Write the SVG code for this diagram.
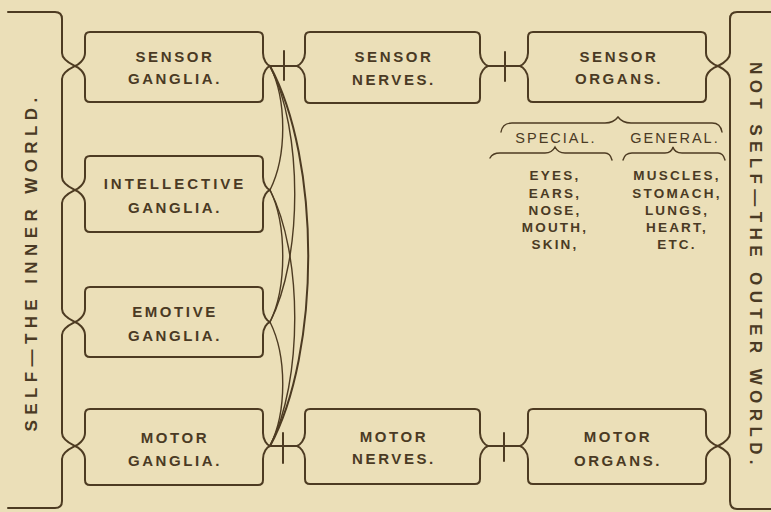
<svg xmlns="http://www.w3.org/2000/svg" width="771" height="512" viewBox="0 0 771 512">
<style>
.bg{fill:#ebdfb8}
.ln{fill:none;stroke:#4d3b22;stroke-width:2;stroke-linejoin:round;stroke-linecap:round}
.thin{fill:none;stroke:#4d3b22;stroke-width:1.4;stroke-linecap:round}
.box{fill:none;stroke:#4d3b22;stroke-width:2;stroke-linejoin:round}
.t{font-family:"Liberation Sans",Arial,sans-serif;font-weight:bold;font-size:15px;letter-spacing:2.6px;fill:#4a3a24;text-anchor:middle}
.s{font-family:"Liberation Sans",Arial,sans-serif;font-size:14.5px;letter-spacing:2px;fill:#4a3a24;text-anchor:middle}
.l{font-family:"Liberation Sans",Arial,sans-serif;font-weight:bold;font-size:13.5px;letter-spacing:2.2px;fill:#4a3a24;text-anchor:middle}
.side{font-family:"Liberation Sans",Arial,sans-serif;font-weight:bold;font-size:17px;letter-spacing:5.4px;fill:#4a3a24;text-anchor:middle}
</style>
<rect class="bg" x="0" y="0" width="771" height="512"/>

<g id="self-bracket">
<path class="ln" d="M8,12 H55 Q62,12 62,19 V53 C62,60 71,64 75,66 C71,68 62,72 62,79 V177 C62,184 71,188 75,190 C71,192 62,196 62,203 V309 C62,316 71,320 75,322 C71,324 62,328 62,335 V433 C62,440 71,444 75,446 C71,448 62,452 62,459 V501 Q62,508 55,508 H8"/>
<text class="side" transform="translate(37,262) rotate(-90)">SELF—THE INNER WORLD.</text>
</g>

<g id="notself-bracket">
<path class="ln" d="M771,12 H737 Q730,12 730,19 V53 C730,60 722,64 718,66 C722,68 730,72 730,79 V433 C730,440 722,444 718,446 C722,448 730,452 730,459 V501 Q730,509 737,509 H771"/>
<text class="side" transform="translate(750,266) rotate(90)">NOT SELF—THE OUTER WORLD.</text>
</g>

<g id="connectors">
<path class="ln" d="M270,66 H297 M284,51 V80"/>
<path class="ln" d="M488,66 H520 M505,52 V81"/>
<path class="ln" d="M270,446 H297 M283,433 V463"/>
<path class="ln" d="M488,446 H520 M504,433 V461"/>
<path class="thin" d="M270,66 C287,100 287,156 270,190"/>
<path class="thin" d="M270,190 C287,224 287,288 270,322"/>
<path class="thin" d="M270,322 C287,356 287,412 270,446"/>
<path class="thin" d="M270,66 C303,130 303,258 270,322"/>
<path class="thin" d="M270,190 C303,254 303,382 270,446"/>
<path class="ln" stroke-width="2.6" d="M270,66 C321,160 321,352 270,446"/>
</g>

<g id="sensor-ganglia">
<path class="box" d="M90,32 H258 Q263,32 263,37 V53 C263,60 267,65 270,66 C267,67 263,72 263,79 V97 Q263,102 258,102 H90 Q85,102 85,97 V79 C85,72 78,67 75,66 C78,65 85,60 85,53 V37 Q85,32 90,32 Z"/>
<text class="t" x="175" y="62">SENSOR</text>
<text class="t" x="175" y="84">GANGLIA.</text>
</g>

<g id="intellective-ganglia">
<path class="box" d="M90,156 H258 Q263,156 263,161 V177 C263,184 267,189 270,190 C267,191 263,196 263,203 V227 Q263,232 258,232 H90 Q85,232 85,227 V203 C85,196 78,191 75,190 C78,189 85,184 85,177 V161 Q85,156 90,156 Z"/>
<text class="t" x="175" y="189" style="letter-spacing:3px">INTELLECTIVE</text>
<text class="t" x="175" y="213">GANGLIA.</text>
</g>

<g id="emotive-ganglia">
<path class="box" d="M90,287 H258 Q263,287 263,292 V309 C263,316 267,321 270,322 C267,323 263,328 263,335 V352 Q263,357 258,357 H90 Q85,357 85,352 V335 C85,328 78,323 75,322 C78,321 85,316 85,309 V292 Q85,287 90,287 Z"/>
<text class="t" x="175" y="317">EMOTIVE</text>
<text class="t" x="175" y="341">GANGLIA.</text>
</g>

<g id="motor-ganglia">
<path class="box" d="M90,409 H258 Q263,409 263,414 V433 C263,440 267,445 270,446 C267,447 263,452 263,459 V480 Q263,485 258,485 H90 Q85,485 85,480 V459 C85,452 78,447 75,446 C78,445 85,440 85,433 V414 Q85,409 90,409 Z"/>
<text class="t" x="175" y="443">MOTOR</text>
<text class="t" x="175" y="466">GANGLIA.</text>
</g>

<g id="sensor-nerves">
<path class="box" d="M310,32 H475 Q480,32 480,37 V53 C480,60 485,65 488,66 C485,67 480,72 480,79 V98 Q480,103 475,103 H310 Q305,103 305,98 V79 C305,72 300,67 297,66 C300,65 305,60 305,53 V37 Q305,32 310,32 Z"/>
<text class="t" x="394" y="62">SENSOR</text>
<text class="t" x="394" y="85">NERVES.</text>
</g>

<g id="sensor-organs">
<path class="box" d="M533,32 H701 Q706,32 706,37 V53 C706,60 714,65 718,66 C714,67 706,72 706,79 V97 Q706,102 701,102 H533 Q528,102 528,97 V79 C528,72 523,67 520,66 C523,65 528,60 528,53 V37 Q528,32 533,32 Z"/>
<text class="t" x="619" y="62">SENSOR</text>
<text class="t" x="619" y="84">ORGANS.</text>
</g>

<g id="organ-kinds">
<path class="thin" d="M501,132 C502,126 505,123 512,123 H605 C612,123 615,121 618,117 C621,121 624,123 631,123 H712 C718,123 721,126 722,132"/>
<text class="s" x="556" y="143">SPECIAL.</text>
<text class="s" x="675" y="143">GENERAL.</text>
<path class="thin" d="M490,158 C492,154 495,153 500,153 H545 C550,153 553,151 555,147 C557,151 560,153 565,153 H605 C609,153 611,156 612,160"/>
<path class="thin" d="M623,160 C624,156 627,153 632,153 H665 C670,153 672,151 673,147 C674,151 677,153 682,153 H718 C722,153 724,156 725,160"/>
<text class="l" x="555" y="180">EYES,</text>
<text class="l" x="555" y="198">EARS,</text>
<text class="l" x="555" y="215">NOSE,</text>
<text class="l" x="555" y="232">MOUTH,</text>
<text class="l" x="555" y="249">SKIN,</text>
<text class="l" x="677" y="180">MUSCLES,</text>
<text class="l" x="677" y="198">STOMACH,</text>
<text class="l" x="677" y="215">LUNGS,</text>
<text class="l" x="677" y="232">HEART,</text>
<text class="l" x="677" y="249">ETC.</text>
</g>

<g id="motor-nerves">
<path class="box" d="M310,409 H475 Q480,409 480,414 V433 C480,440 485,445 488,446 C485,447 480,452 480,459 V479 Q480,484 475,484 H310 Q305,484 305,479 V459 C305,452 300,447 297,446 C300,445 305,440 305,433 V414 Q305,409 310,409 Z"/>
<text class="t" x="394" y="442">MOTOR</text>
<text class="t" x="394" y="464">NERVES.</text>
</g>

<g id="motor-organs">
<path class="box" d="M533,409 H701 Q706,409 706,414 V433 C706,440 714,445 718,446 C714,447 706,452 706,459 V479 Q706,484 701,484 H533 Q528,484 528,479 V459 C528,452 523,447 520,446 C523,445 528,440 528,433 V414 Q528,409 533,409 Z"/>
<text class="t" x="618" y="442">MOTOR</text>
<text class="t" x="618" y="466">ORGANS.</text>
</g>
</svg>
